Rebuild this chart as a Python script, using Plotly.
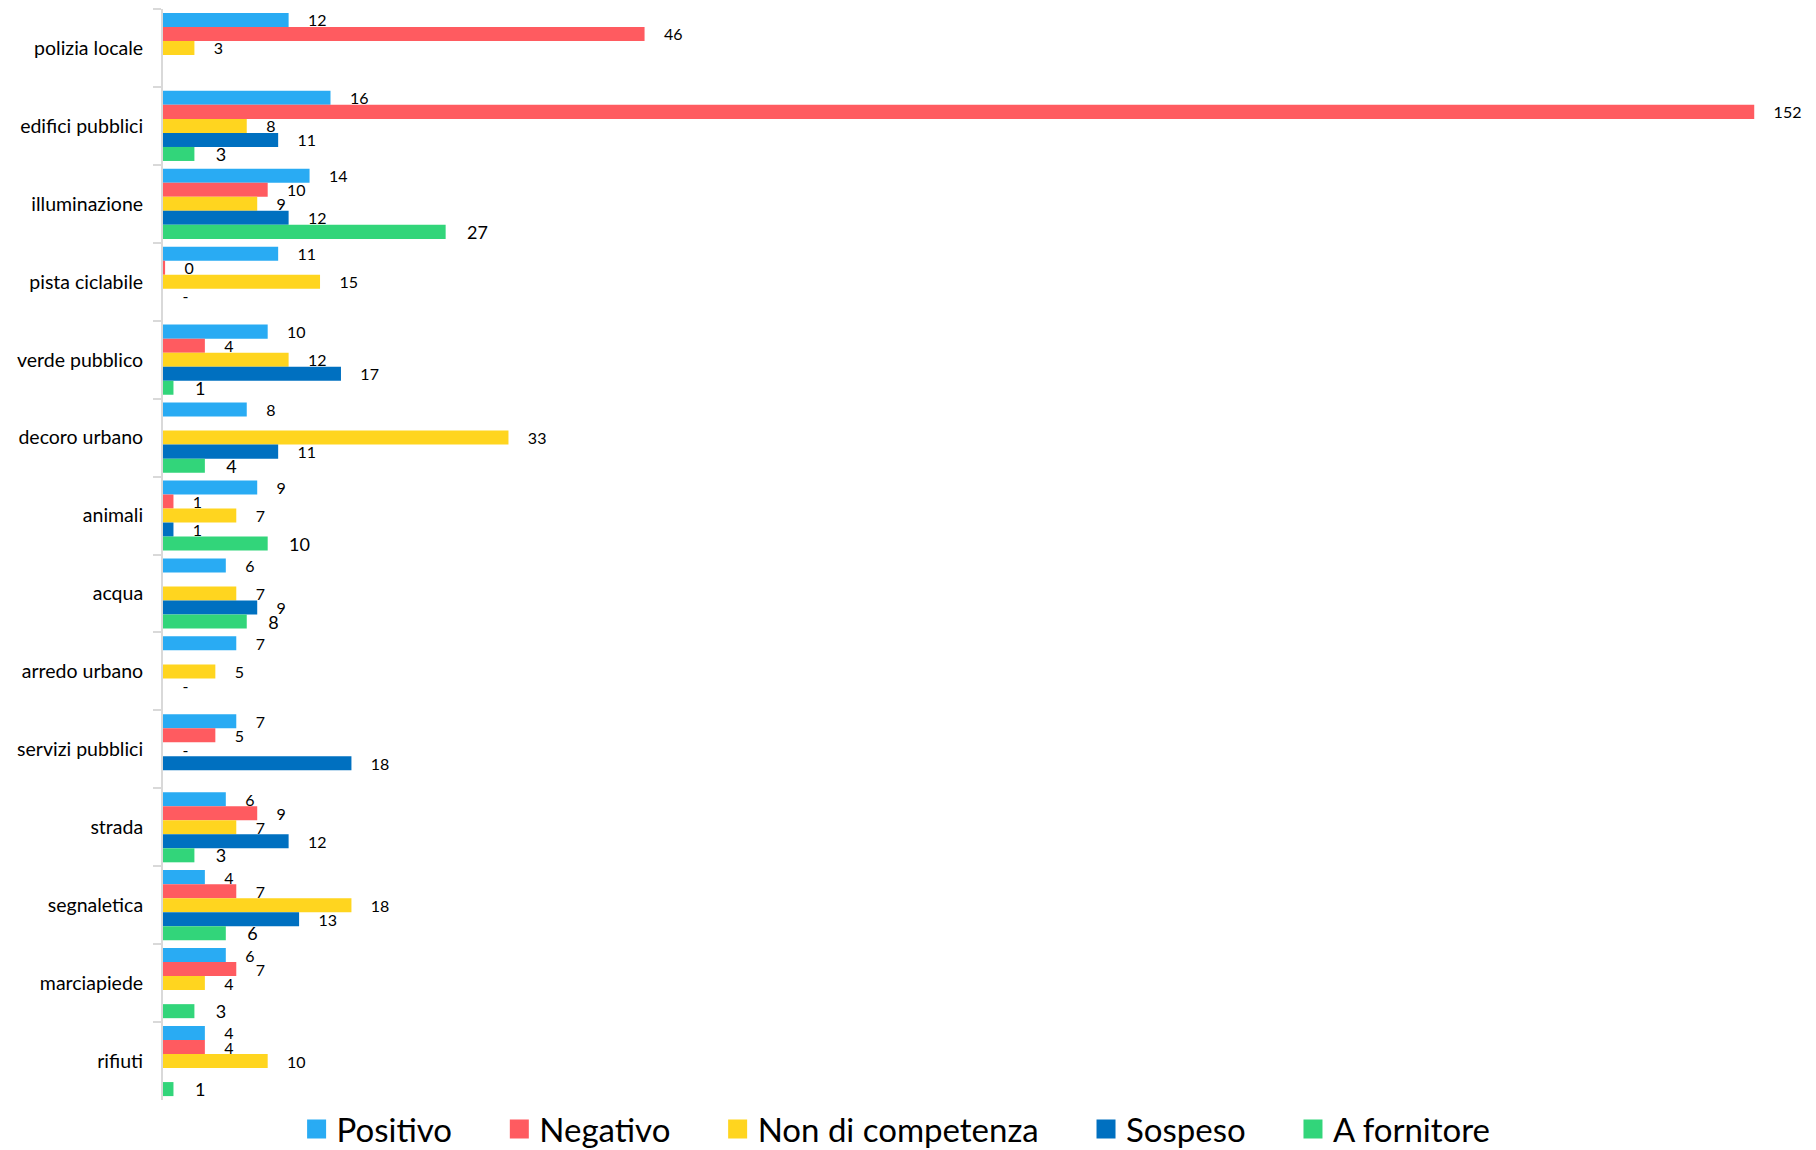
import plotly.graph_objects as go

categories = ["polizia locale", "edifici pubblici", "illuminazione", "pista ciclabile",
              "verde pubblico", "decoro urbano", "animali", "acqua", "arredo urbano",
              "servizi pubblici", "strada", "segnaletica", "marciapiede", "rifiuti"]

positivo = [12, 16, 14, 11, 10, 8, 9, 6, 7, 7, 6, 4, 6, 4]
negativo = [46, 152, 10, 0.2, 4, None, 1, None, None, 5, 9, 7, 7, 4]
non_competenza = [3, 8, 9, 15, 12, 33, 7, 7, 5, 0, 7, 18, 4, 10]
sospeso = [None, 11, 12, 0, 17, 11, 1, 9, 0, 18, 12, 13, None, None]
a_fornitore = [None, 3, 27, None, 1, 4, 10, 8, None, None, 3, 6, 3, 1]

series_names = ["Positivo", "Negativo", "Non di competenza", "Sospeso", "A fornitore"]
series_values = [positivo, negativo, non_competenza, sospeso, a_fornitore]
series_colors = ["#29ABF3", "#FF5B60", "#FFD51F", "#0070C0", "#32D57A"]
label_sizes = [16, 16, 16, 16, 18]

FONT = "Lato, 'Open Sans', sans-serif"


def label(v):
    if v is None:
        return ""
    if v == 0:
        return "-"
    return str(int(round(v)))


fig = go.Figure()
for name, vals, color, fs in zip(series_names, series_values, series_colors, label_sizes):
    pad = "\u00a0" * 4
    fig.add_trace(go.Bar(
        name=name,
        y=categories,
        x=vals,
        orientation="h",
        marker=dict(color=color, line=dict(width=0)),
        text=[label(v) for v in vals],
        texttemplate=pad + "%{text}",
        textposition="outside",
        constraintext="none",
        cliponaxis=False,
        textfont=dict(family=FONT, size=fs, color="#000000"),
        hoverinfo="skip",
        showlegend=False,
    ))

# legend entries with larger square swatches
n_series = len(series_names)
for i, (name, color) in enumerate(zip(series_names, series_colors)):
    spacer = "\u00a0" * 5 if i < n_series - 1 else ""
    fig.add_trace(go.Scatter(
        name=name + spacer,
        x=[None], y=[None],
        mode="markers",
        marker=dict(symbol="square", size=16, color=color, line=dict(width=3, color=color)),
        showlegend=True,
        hoverinfo="skip",
    ))

fig.update_layout(
    width=1816, height=1150,
    margin=dict(l=163, r=0, t=9, b=50),
    barmode="group",
    bargap=0.1,
    bargroupgap=0,
    plot_bgcolor="white",
    paper_bgcolor="white",
    font=dict(family=FONT, color="#000000"),
    legend=dict(
        orientation="h",
        x=0.4435, xanchor="center",
        yref="container",
        y=0.0183, yanchor="middle",
        font=dict(family=FONT, size=33, color="#000000"),
        itemsizing="trace",
    ),
    xaxis=dict(
        range=[0, 157.9],
        showgrid=False, zeroline=False, showticklabels=False, ticks="",
        showline=False,
    ),
    yaxis=dict(
        autorange="reversed",
        showgrid=False, zeroline=False,
        showline=True, linecolor="#D9D9D9", linewidth=2,
        ticks="outside", ticklen=8, tickcolor="#D9D9D9", tickwidth=2,
        tickson="boundaries",
        ticklabelstandoff=14,
        tickfont=dict(family=FONT, size=19.5, color="#000000"),
    ),
)

fig.write_html("out.html", config={"displayModeBar": False},
               post_script="document.body.style.margin='0px';")
